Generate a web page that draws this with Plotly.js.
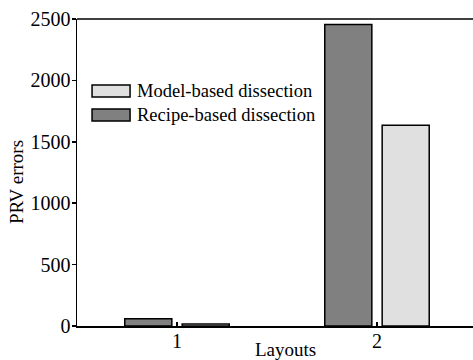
<!DOCTYPE html>
<html>
<head>
<meta charset="utf-8">
<script src="https://cdn.plot.ly/plotly-3.0.1.min.js"></script>
<style>html,body{margin:0;padding:0;background:#fff;}#chart{width:473px;height:360px;}</style>
</head>
<body>
<div id="chart"></div>
<script>
var layouts = [1, 2];
var tickLabels = ["1", "2"];
var seriesNames = ["Model-based dissection", "Recipe-based dissection"];
var recipeErrors = [60, 2455];
var modelErrors = [16, 1635];
var yTicks = [0, 500, 1000, 1500, 2000, 2500];

var darkFill = "#808080", lightFill = "#e0e0e0";
var FONT = "Liberation Serif";

var traces = [
  {type: "bar", name: seriesNames[1], x: layouts, y: recipeErrors,
   marker: {color: darkFill, line: {color: "#000", width: 1.5}}},
  {type: "bar", name: seriesNames[0], x: layouts, y: modelErrors,
   marker: {color: lightFill, line: {color: "#000", width: 1.5}}}
];

var legendItems = [
  {name: seriesNames[0], fill: lightFill, y0: 0.746, y1: 0.785, ty: 0.766},
  {name: seriesNames[1], fill: darkFill, y0: 0.668, y1: 0.707, ty: 0.688}
];
var shapes = [
  {type: "line", xref: "paper", yref: "paper", x0: 0, x1: 1, y0: 1, y1: 1,
   line: {color: "#000", width: 1.5}}
];
var annotations = [];
legendItems.forEach(function (it) {
  shapes.push({type: "rect", xref: "paper", yref: "paper", x0: 0.038, x1: 0.134,
    y0: it.y0, y1: it.y1, fillcolor: it.fill, line: {color: "#000", width: 1.5}});
  annotations.push({xref: "paper", yref: "paper", x: 0.146, y: it.ty, xanchor: "left",
    yanchor: "middle", text: it.name, showarrow: false,
    font: {family: FONT, size: 18.5, color: "#000"}});
});
annotations.push({xref: "paper", yref: "paper", x: 0.527, y: -0.078, xanchor: "center",
  yanchor: "middle", text: "Layouts", showarrow: false,
  font: {family: FONT, size: 19, color: "#000"}});
annotations.push({xref: "paper", yref: "paper", x: -0.153, y: 0.47, xanchor: "center",
  yanchor: "middle", text: "PRV errors", textangle: -90, showarrow: false,
  font: {family: FONT, size: 19, color: "#000"}});

var layout = {
  width: 473, height: 360,
  margin: {l: 77, r: 0, t: 19, b: 34, pad: 0},
  paper_bgcolor: "#fff", plot_bgcolor: "#fff",
  showlegend: false,
  barmode: "group", bargap: 0.426, bargroupgap: 0.18,
  font: {family: FONT, color: "#000"},
  xaxis: {range: [0.5, 2.48], tickvals: layouts, ticktext: tickLabels,
    ticks: "inside", ticklen: 4, tickwidth: 1.5, tickcolor: "#000",
    showline: true, linecolor: "#000", linewidth: 1.5, showgrid: false, zeroline: false,
    ticklabelstandoff: -4,
    tickfont: {family: FONT, size: 20, color: "#000"}, fixedrange: true},
  yaxis: {range: [0, 2500], tickvals: yTicks, ticks: "outside", ticklen: 4,
    tickwidth: 1.5, tickcolor: "#000", showline: true, linecolor: "#000", linewidth: 1.5,
    showgrid: false, zeroline: false, ticklabelstandoff: -3,
    tickfont: {family: FONT, size: 20, color: "#000"}, fixedrange: true},
  shapes: shapes,
  annotations: annotations
};
Plotly.newPlot("chart", traces, layout, {displayModeBar: false, staticPlot: true});
</script>
</body>
</html>
